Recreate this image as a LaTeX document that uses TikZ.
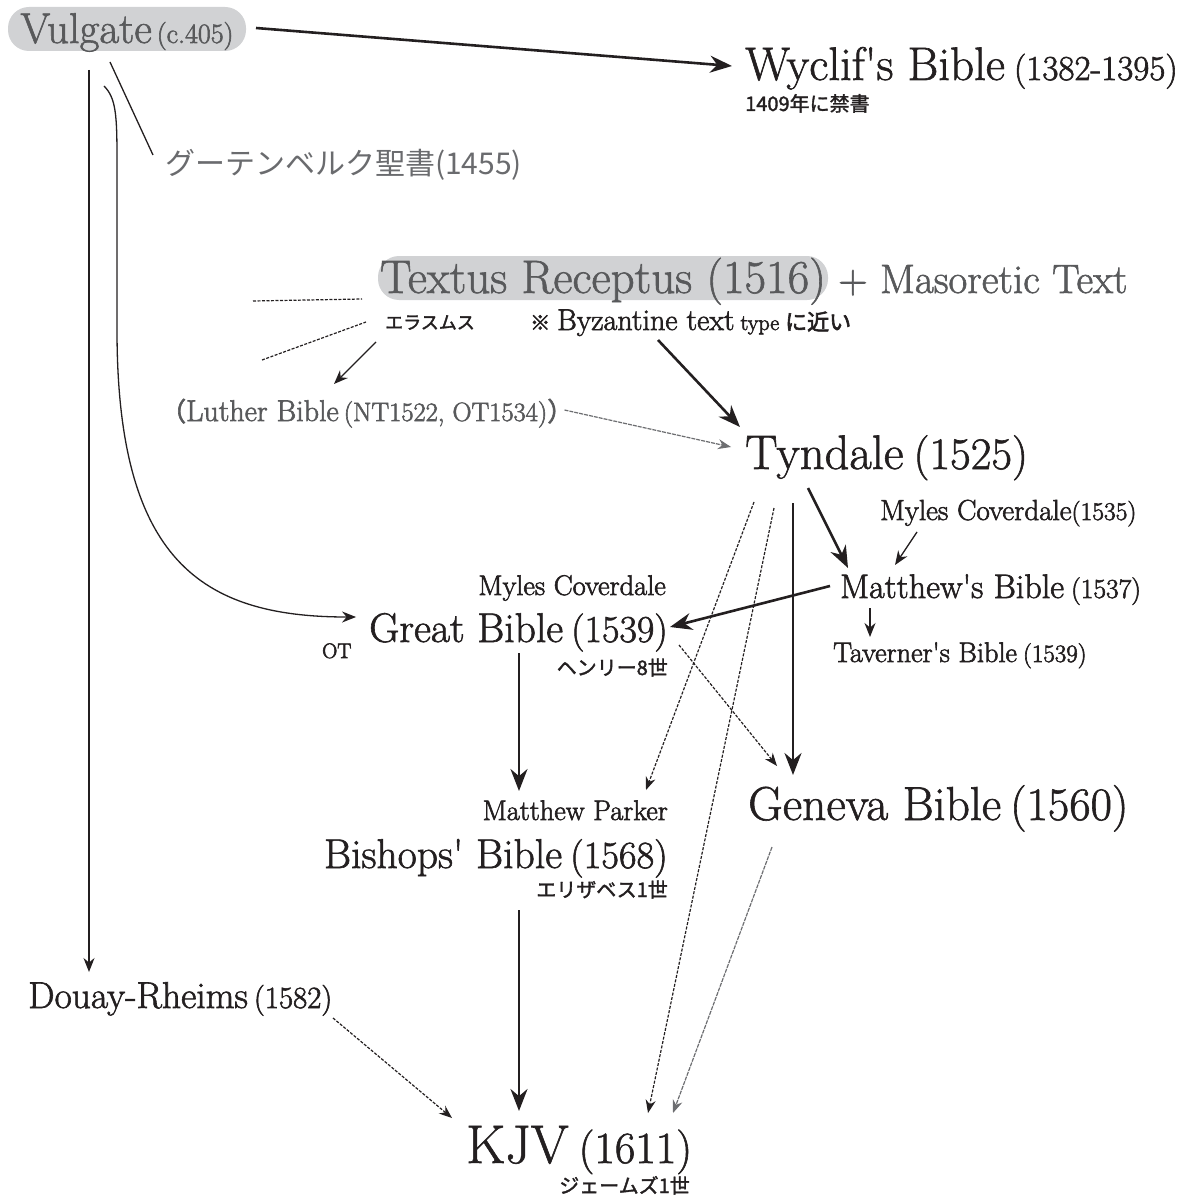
\documentclass[tikz,border=0pt]{standalone}
\usepackage{fontspec}
\newfontfamily\jp{Noto Sans CJK JP}
\usetikzlibrary{arrows.meta,calc}
\definecolor{ink}{HTML}{231F20}
\definecolor{txtgray}{HTML}{58595B}
\definecolor{lightgray}{HTML}{6A6B6E}
\definecolor{boxgray}{HTML}{D1D2D4}
\definecolor{arrgray}{HTML}{6D6E71}
\newcommand\fsz[1]{\fontsize{#1}{#1}\selectfont}
\newcommand\heavytext{\special{pdf:literal direct 2 Tr 0.6 w}}
\newcommand\semiheavy{\special{pdf:literal direct 2 Tr 0.35 w}}
\newcommand\apos{\textquotesingle}
\begin{document}
\begin{tikzpicture}[x=1pt,y=-1pt,
  lbl/.style={inner sep=0pt, text=ink, execute at begin node=\heavytext},
  glbl/.style={inner sep=0pt, text=txtgray, execute at begin node=\heavytext},
  jlbl/.style={inner sep=0pt, text=ink, execute at begin node=\semiheavy},
  pill/.style={fill=boxgray, rounded corners=21pt, inner xsep=0pt, minimum height=44pt, text=txtgray, execute at begin node=\heavytext},
  thickarr/.style={draw=ink, line width=2.6pt, -{Stealth[length=22pt,width=17pt]}},
  thinarr/.style={draw=ink, line width=1.3pt, -{Stealth[length=14pt,width=11pt]}},
  plainline/.style={draw=ink, line width=1.3pt},
  dashline/.style={draw=ink, line width=1.2pt, dash pattern=on 3pt off 1.5pt},
  dasharr/.style={dashline, -{Stealth[length=13pt,width=10pt]}},
  graydash/.style={draw=arrgray, line width=1.2pt, dash pattern=on 4pt off 1pt, -{Stealth[length=13pt,width=10pt]}},
]
\useasboundingbox (0,0) rectangle (1191,1198);

% nodes
\node[pill, minimum width=238pt, text height=28pt, text depth=0pt] (vulgate) at (127,29) {\fsz{43}Vulgate\hspace{5pt}{\fsz{28}(c.405)}};
\node[lbl, anchor=base west] (wyclif) at (745,80) {\fsz{47}Wyclif\apos s Bible\hspace{9pt}{\fsz{35}(1382-1395)}};
\node[jlbl, anchor=base west] (wyclifnote) at (745,111) {\jp\fsz{20}1409年に禁書};
\node[inner sep=0pt, text=lightgray, anchor=base west] (gutenberg) at (165,175) {\jp\fsz{30}グーテンベルク聖書(1455)};
\node[pill, minimum width=450pt, text height=30pt, text depth=0pt] (textus) at (603,278) {\fsz{47}Textus Receptus (1516)};
\node[glbl, anchor=base west] (masoretic) at (838,293) {\fsz{41}+ Masoretic Text};
\node[jlbl, anchor=base west] (erasmus) at (385,329) {\jp\fsz{18}エラスムス};
\node[lbl, anchor=base west] (byz) at (530,330) {{\jp\fsz{20}※}\hspace{7pt}\fsz{30}Byzantine text\hspace{6pt}{\fsz{22}type}\hspace{6pt}{\jp\fsz{22}に近い}};
\node[glbl, anchor=base west] (luther) at (160,421) {{\jp\fsz{26}（}\fsz{30}Luther Bible\hspace{5pt}{\fsz{26.5}(NT1522, OT1534)}{\jp\fsz{26}）}};
\node[lbl, anchor=base west] (tyndale) at (745,469) {\fsz{48.5}Tyndale\hspace{10pt}{\fsz{45}(1525)}};
\node[lbl, anchor=base west] (coverdale1) at (880,520) {\fsz{29}Myles Coverdale{\fsz{25.5}(1535)}};
\node[lbl, anchor=base west] (matthew) at (840,598) {\fsz{34}Matthew\apos s Bible\hspace{7pt}{\fsz{27.5}(1537)}};
\node[lbl, anchor=base west] (taverner) at (833,662) {\fsz{28.3}Taverner\apos s Bible\hspace{6pt}{\fsz{25}(1539)}};
\node[lbl, anchor=base east] (coverdale2) at (666,595) {\fsz{28.4}Myles Coverdale};
\node[lbl, anchor=base east] (great) at (668,642) {\fsz{41.5}Great Bible\hspace{8pt}{\fsz{38}(1539)}};
\node[lbl, anchor=base west] (ot) at (322,658) {\fsz{21}OT};
\node[jlbl, anchor=base east] (henry) at (668,675) {\jp\fsz{20}ヘンリー8世};
\node[lbl, anchor=base east] (parker) at (668,820) {\fsz{28.3}Matthew Parker};
\node[lbl, anchor=base east] (bishops) at (668,868) {\fsz{41.6}Bishops\apos\ Bible\hspace{8pt}{\fsz{38.4}(1568)}};
\node[jlbl, anchor=base east] (elizabeth) at (668,897) {\jp\fsz{20}エリザベス1世};
\node[lbl, anchor=base west] (geneva) at (748,820) {\fsz{47.6}Geneva Bible\hspace{9pt}{\fsz{46.5}(1560)}};
\node[lbl, anchor=base west] (douay) at (28,1008) {\fsz{37.4}Douay-Rheims\hspace{6pt}{\fsz{30.8}(1582)}};
\node[lbl, anchor=base west] (kjv) at (466,1163) {\fsz{54.4}KJV\hspace{10pt}{\fsz{44.6}(1611)}};
\node[jlbl, anchor=base east] (james) at (690,1193) {\jp\fsz{20}ジェームズ1世};

% connectors
\draw[thickarr] ($(vulgate.center)+(129,-1)$) -- ($(wyclif.base west)+(-13,-14)$);
\draw[plainline] ($(vulgate.center)+(-17,33)$) -- ($(gutenberg.base west)+(-12,-20)$);
\draw[thinarr] ($(vulgate.center)+(-38,41)$) -- ($(douay.base west)+(61,-36)$);
\draw[thinarr] ($(vulgate.center)+(-23,57)$) .. controls ($(vulgate.center)+(-11,69)$) and ($(vulgate.center)+(-10,86)$) .. ($(vulgate.center)+(-10,131)$) -- ($(vulgate.center)+(-10,301)$) .. controls ($(vulgate.center)+(-10,531)$) and ($(great.base west)+(-168,-25)$) .. ($(great.base west)+(-13,-25)$);

\coordinate (d1) at (253,301);
\coordinate (d2) at (262,360);
\draw[dashline] (d1) -- ($(textus.center)+(-241,21)$);
\draw[dashline] (d2) -- ($(erasmus.base west)+(-19,-7)$);

\draw[thinarr] ($(erasmus.base west)+(-9,13)$) -- ($(luther.base west)+(174,-37)$);
\draw[thickarr] ($(byz.base west)+(128,10)$) -- ($(tyndale.base west)+(-5,-42)$);
\draw[graydash] ($(luther.base east)+(-9,-11)$) -- ($(tyndale.base west)+(-14,-22)$);

\draw[thickarr] ($(tyndale.base west)+(63,19)$) -- ($(matthew.base west)+(8,-30)$);
\draw[thinarr] ($(coverdale1.base west)+(37,12)$) -- ($(matthew.base west)+(55,-33)$);
\draw[thinarr] ($(matthew.base west)+(30,10)$) -- ($(taverner.base west)+(37,-25)$);
\draw[thickarr] ($(matthew.base west)+(-10,-12)$) -- ($(great.base east)+(2,-15)$);
\draw[thickarr] ($(tyndale.base west)+(48,34)$) -- ($(geneva.base west)+(45,-45)$);
\draw[dasharr] ($(tyndale.base west)+(9,33)$) -- ($(bishops.base east)+(-22,-78)$);
\draw[dasharr] ($(tyndale.base west)+(29,39)$) -- ($(kjv.base west)+(182,-50)$);
\draw[dasharr] ($(great.base east)+(11,3)$) -- ($(geneva.base west)+(29,-54)$);
\draw[thickarr] ($(great.base east)+(-149,11)$) -- ($(bishops.base east)+(-149,-77)$);
\draw[thickarr] ($(bishops.base east)+(-149,42)$) -- ($(kjv.base west)+(53,-52)$);
\draw[graydash] ($(geneva.base west)+(24,27)$) -- ($(kjv.base west)+(207,-50)$);
\draw[dasharr] ($(douay.base west)+(305,10)$) -- ($(kjv.base west)+(-14,-45)$);
\end{tikzpicture}
\end{document}
